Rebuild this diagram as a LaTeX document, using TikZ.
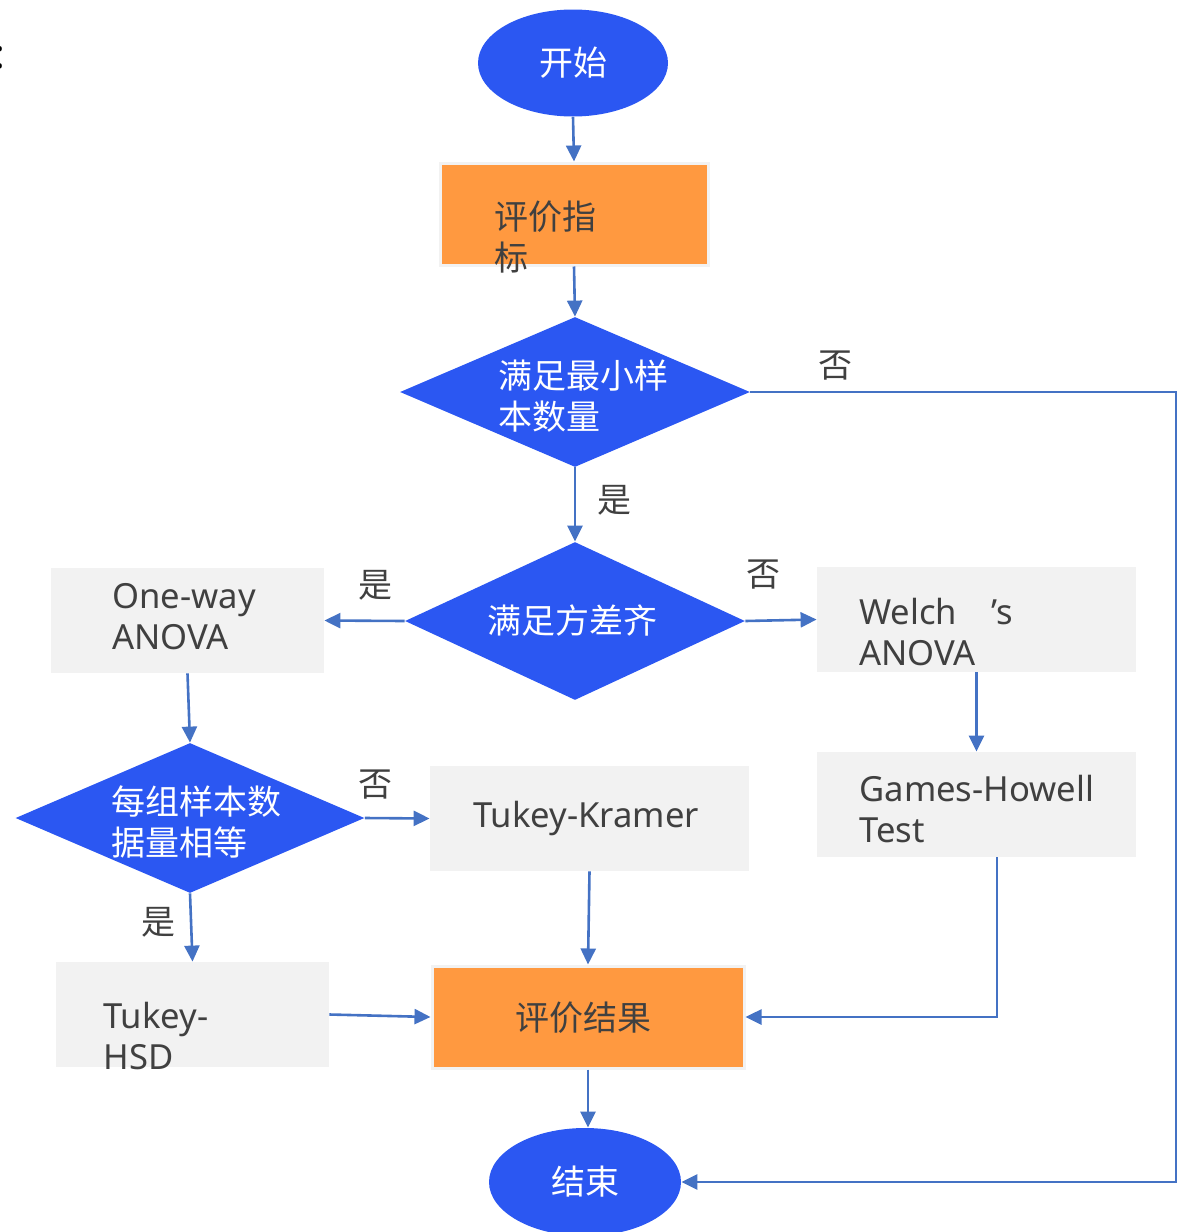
\documentclass[tikz,border=0pt]{standalone}
\usepackage{fontspec}
\setmainfont{Noto Sans CJK SC}
\newfontfamily\latf{Noto Sans}
\usetikzlibrary{shapes.geometric,arrows.meta,calc}
\definecolor{dblue}{RGB}{43,87,242}
\definecolor{lblue}{RGB}{68,114,196}
\definecolor{orng}{RGB}{255,153,64}
\definecolor{gbox}{RGB}{242,242,242}
\definecolor{txt}{RGB}{64,64,64}
\tikzset{
  every node/.style={font=\fontsize{17pt}{20.5pt}\selectfont},
  oval/.style={ellipse,fill=dblue,text=white,inner sep=0pt},
  dia/.style={diamond,fill=dblue,inner sep=0pt},
  diatext/.style={text=white,align=left,inner sep=0pt},
  obox/.style={rectangle,fill=orng,draw=gbox,line width=1.5pt,inner sep=0pt},
  gboxs/.style={rectangle,fill=gbox,inner sep=0pt},
  btext/.style={text=txt,align=left,inner sep=0pt},
  ltext/.style={text=txt,align=left,inner sep=0pt,font=\latf\fontsize{17.3pt}{20.5pt}\selectfont},
  lbl/.style={text=txt,inner sep=0pt},
  conn/.style={draw=lblue,line width=1.3pt,-{Triangle[width=7.5pt,length=8pt]}},
}
\begin{document}
\begin{tikzpicture}[x=0.5pt,y=-0.5pt]
\useasboundingbox (0,0) rectangle (1177,1232);
% clipped mark at left edge
\node[text=black,inner sep=0pt,font=\latf\fontsize{20pt}{20pt}\selectfont] (mark) at (0,58) {:};
% nodes
\node[oval,minimum width=95pt,minimum height=53.5pt] (start) at (573,63) {开始};
\node[obox,minimum width=134pt,minimum height=51pt] (m1) at (574,214) {};
\node[btext,anchor=west] (m1t) at (494,237) {评价指\\标};
\node[dia,minimum width=175pt,minimum height=75pt] (d1) at (575,392) {};
\node[diatext] (d1t) at (583,396) {满足最小样\\本数量};
\node[dia,minimum width=170pt,minimum height=79pt] (d2) at (575,621) {};
\node[diatext] (d2t) at (572,621) {满足方差齐};
\node[gboxs,minimum width=136.5pt,minimum height=52.5pt] (ow) at (187.5,620.5) {};
\node[ltext,anchor=west] (owt) at (112,617) {One-way\\ANOVA};
\node[gboxs,minimum width=159.5pt,minimum height=52.5pt] (wa) at (976.5,619.5) {};
\node[ltext,anchor=west] (wat) at (859,632) {Welch\hspace{1em}’s\\ANOVA};
\node[gboxs,minimum width=159.5pt,minimum height=52.5pt] (gh) at (976.5,804.5) {};
\node[ltext,anchor=west] (ght) at (859,809) {Games-Howell\\Test};
\node[dia,minimum width=174.5pt,minimum height=75pt] (d3) at (190,818) {};
\node[diatext] (d3t) at (196,822) {每组样本数\\据量相等};
\node[gboxs,minimum width=159.5pt,minimum height=52.5pt] (tk) at (589.5,818.5) {};
\node[ltext,anchor=west] (tkt) at (473,818) {Tukey-Kramer};
\node[gboxs,minimum width=136.5pt,minimum height=52.5pt] (hsd) at (192.5,1014.5) {};
\node[ltext,anchor=west] (hsdt) at (103,1036) {Tukey-\\HSD};
\node[obox,minimum width=156pt,minimum height=51pt] (res) at (588,1017) {};
\node[btext] (rest) at (583,1018) {评价结果};
\node[oval,minimum width=96pt,minimum height=54pt] (end) at (585,1182) {结束};
% labels
\node[lbl] (l1) at (835,366) {否};
\node[lbl] (l2) at (614,500) {是};
\node[lbl] (l3) at (375,585) {是};
\node[lbl] (l4) at (763,575) {否};
\node[lbl] (l5) at (375,785) {否};
\node[lbl] (l6) at (158,922) {是};
% connectors
\coordinate (rc) at (1176.5,392);
\draw[conn] (start.south) -- (m1.north);
\draw[conn] (m1.south) -- (d1.north);
\draw[conn] (d1.south) -- (d2.north);
\draw[conn] (d2.west) -- (ow.east);
\draw[conn] (d2.east) -- (wa.west);
\draw[conn] (wa.south) -- (gh.north);
\draw[conn] (ow.south) -- (d3.north);
\draw[conn] (d3.east) -- (tk.west);
\draw[conn] (d3.south) -- (hsd.north);
\draw[conn] (tk.south) -- (res.north);
\draw[conn] (hsd.east) -- (res.west);
\draw[conn] ([xshift=10.25pt]gh.south) |- (res.east);
\draw[conn] (res.south) -- (res.south |- end.north);
\draw[conn] (d1.east) -- (rc) |- (end.east);
\end{tikzpicture}
\end{document}
